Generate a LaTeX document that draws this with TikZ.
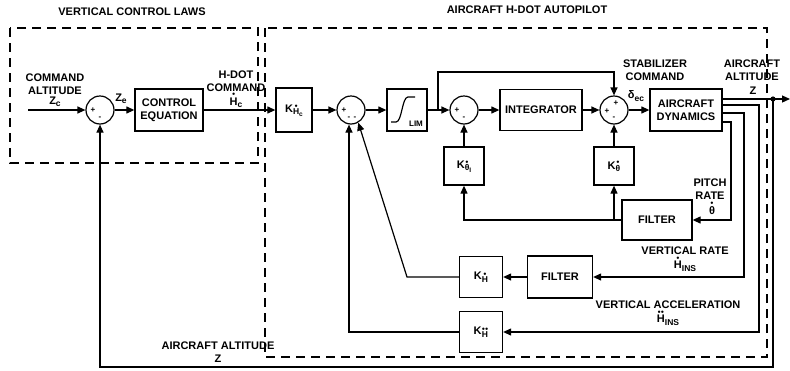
\documentclass[tikz,border=0pt]{standalone}
\usepackage{amsmath}
\usepackage{fontspec}
\setmainfont{Liberation Sans}
\usetikzlibrary{arrows.meta,positioning,calc}
\newcommand{\dH}{\ensuremath{\overset{\scriptscriptstyle\bullet}{\text{H}}}}
\newcommand{\ddH}{\ensuremath{\overset{\scriptscriptstyle{\bullet}\mkern-1mu{\bullet}}{\text{H}}}}
\newcommand{\dth}{\ensuremath{\overset{\scriptscriptstyle\bullet}{\text{θ}}}}
\newcommand{\sbs}[1]{\raisebox{-2.5pt}{\fontsize{8.5}{8.5}\selectfont #1}}
\newcommand{\ssbs}[1]{\raisebox{-1.5pt}{\fontsize{6.5}{6.5}\selectfont #1}}

\begin{document}
\begin{tikzpicture}[
  x=1pt,y=-1pt,
  font=\bfseries\fontsize{11}{12.5}\selectfont,
  blk/.style={draw,line width=1.3pt,inner sep=1pt,align=center},
  sumj/.style={draw,circle,line width=1.2pt,minimum size=28pt,inner sep=0pt},
  sgn/.style={font=\bfseries\fontsize{8}{8}\selectfont,inner sep=0pt},
  arr/.style={-{Triangle[length=8pt,width=7pt]},line width=1.2pt},
  wire/.style={line width=1.2pt},
  grp/.style={line width=1.1pt,dash pattern=on 9pt off 6pt},
  lbl/.style={align=center,inner sep=0pt}
]
  \useasboundingbox (0,0) rectangle (790,370);

  \node (tvcl) at (132,12) {VERTICAL CONTROL LAWS};
  \node (tap) at (527,10) {AIRCRAFT H-DOT AUTOPILOT};
  \draw[grp] (10,28) rectangle (258,163);
  \draw[grp] (265,28) rectangle (767,357);

  \node[sumj] (sumA) at (100,110) {};
  \node[blk,minimum width=68pt,minimum height=42pt] (ctrleq) at (169,110) {CONTROL\\EQUATION};
  \node[blk,minimum width=36pt,minimum height=44pt] (kcmd) at (294,110) {K\sbs{\dH\ssbs{c}}};
  \node[sumj] (sumB) at (351,110) {};
  \node[blk,minimum width=40pt,minimum height=42pt] (lim) at (407,110) {};
  \node[sumj] (sumC) at (464,110) {};
  \node[blk,minimum width=82pt,minimum height=41pt] (integ) at (541,110) {INTEGRATOR};
  \node[sumj] (sumD) at (614,110) {};
  \node[blk,minimum width=72pt,minimum height=42pt] (dyn) at (686,110) {AIRCRAFT\\DYNAMICS};
  \node[blk,minimum width=40pt,minimum height=38pt] (kpi) at (464,166) {K\sbs{\dth\ssbs{I}}};
  \node[blk,minimum width=40pt,minimum height=38pt] (kp) at (614,166) {K\sbs{\dth}};
  \node[blk,minimum width=70pt,minimum height=40pt] (pfilt) at (657,220) {FILTER};
  \node[blk,minimum width=65pt,minimum height=42pt] (vfilt) at (560,277) {FILTER};
  \node[blk,minimum width=43pt,minimum height=41pt] (kvr) at (481,277) {K\sbs{\dH}};
  \node[blk,minimum width=43pt,minimum height=41pt] (kva) at (481,332) {K\sbs{\ddH}};

  \draw[wire] ($(lim)+(-16,12)$) -- ++(5,0) .. controls +(6,0) and +(-6,0) .. ++(12,-25) -- ++(7,0);
  \node[sgn] (limtxt) at ($(lim)+(9,14)$) {LIM};

  \node[sgn] (sa1) at ($(sumA)+(-7,0)$) {+};
  \node[sgn] (sa2) at ($(sumA)+(0,8)$) {-};
  \node[sgn] (sb1) at ($(sumB)+(-7,0)$) {+};
  \node[sgn] (sb2) at ($(sumB)+(-2,8)$) {-};
  \node[sgn] (sb3) at ($(sumB)+(4,8)$) {-};
  \node[sgn] (sc1) at ($(sumC)+(-7,0)$) {+};
  \node[sgn] (sc2) at ($(sumC)+(0,8)$) {-};
  \node[sgn] (sd1) at ($(sumD)+(2,-7)$) {+};
  \node[sgn] (sd2) at ($(sumD)+(-7,1)$) {+};
  \node[sgn] (sd3) at ($(sumD)+(0,8)$) {-};

  \coordinate (cin) at (28,110);
  \draw[arr] (cin) -- (sumA);
  \draw[arr] (sumA) -- (ctrleq);
  \draw[arr] (ctrleq) -- (kcmd);
  \draw[arr] (kcmd) -- (sumB);
  \draw[arr] (sumB) -- (lim);
  \draw[arr] (lim) -- (sumC);
  \draw[arr] (sumC) -- (integ);
  \draw[arr] (integ) -- (sumD);
  \draw[arr] (sumD) -- (dyn);
  \coordinate (br) at (438,110);
  \draw[arr] (br) -- ++(0,-38) -| (sumD.north);
  \draw[arr] (kpi) -- (sumC);
  \draw[arr] (kp) -- (sumD);
  \draw[arr] (pfilt.west) -| (kpi.south);
  \draw[arr] (pfilt.west -| kp.south) -- (kp.south);

  \coordinate (zj) at (773,99);
  \coordinate (zout) at (790,99);
  \draw[wire] ([yshift=11pt]dyn.east) -- (zj);
  \draw[arr] (zj) -- (zout);
  \fill (zj) circle (2.6pt);
  \draw[arr] (zj) -- (773,367) -| (sumA.south);
  \draw[arr] ([yshift=5pt]dyn.east) -| (759,332) -- (kva.east);
  \draw[arr] ([yshift=-3pt]dyn.east) -| (744,277) -- (vfilt.east);
  \draw[arr] ([yshift=-12pt]dyn.east) -| (731,220) -- (pfilt.east);
  \draw[arr] (vfilt) -- (kvr);
  \draw[arr] (kvr.west) -- (407,277) -- (sumB.-60);
  \draw[arr] (kva.west) -| ([xshift=-2pt]sumB.south);

  \node[lbl] (lcmd) at (55,84) {COMMAND\\ALTITUDE};
  \node[lbl] (lzc) at (55,102) {Z\sbs{c}};
  \node[lbl] (lze) at (121,99) {Z\sbs{e}};
  \node[lbl] (lhdot) at (236,81) {H-DOT\\COMMAND};
  \node[lbl] (lhc) at (236,100) {\dH\sbs{c}};
  \node[lbl] (lstab) at (655,70) {STABILIZER\\COMMAND};
  \node[lbl] (ldec) at (636,96) {δ\sbs{ec}};
  \node[lbl] (lalt) at (752,70) {AIRCRAFT\\ALTITUDE};
  \node[lbl] (lz) at (753,91) {Z};
  \node[lbl] (lpr) at (710,189) {PITCH\\RATE};
  \node[lbl] (lthd) at (712,208) {\dth};
  \node[lbl] (lvr) at (685,259) {VERTICAL RATE\\\dH\sbs{INS}};
  \node[lbl] (lva) at (668,313) {VERTICAL ACCELERATION\\\ddH\sbs{INS}};
  \node[lbl] (laz) at (218,352) {AIRCRAFT ALTITUDE\\Z};
\end{tikzpicture}
\end{document}
